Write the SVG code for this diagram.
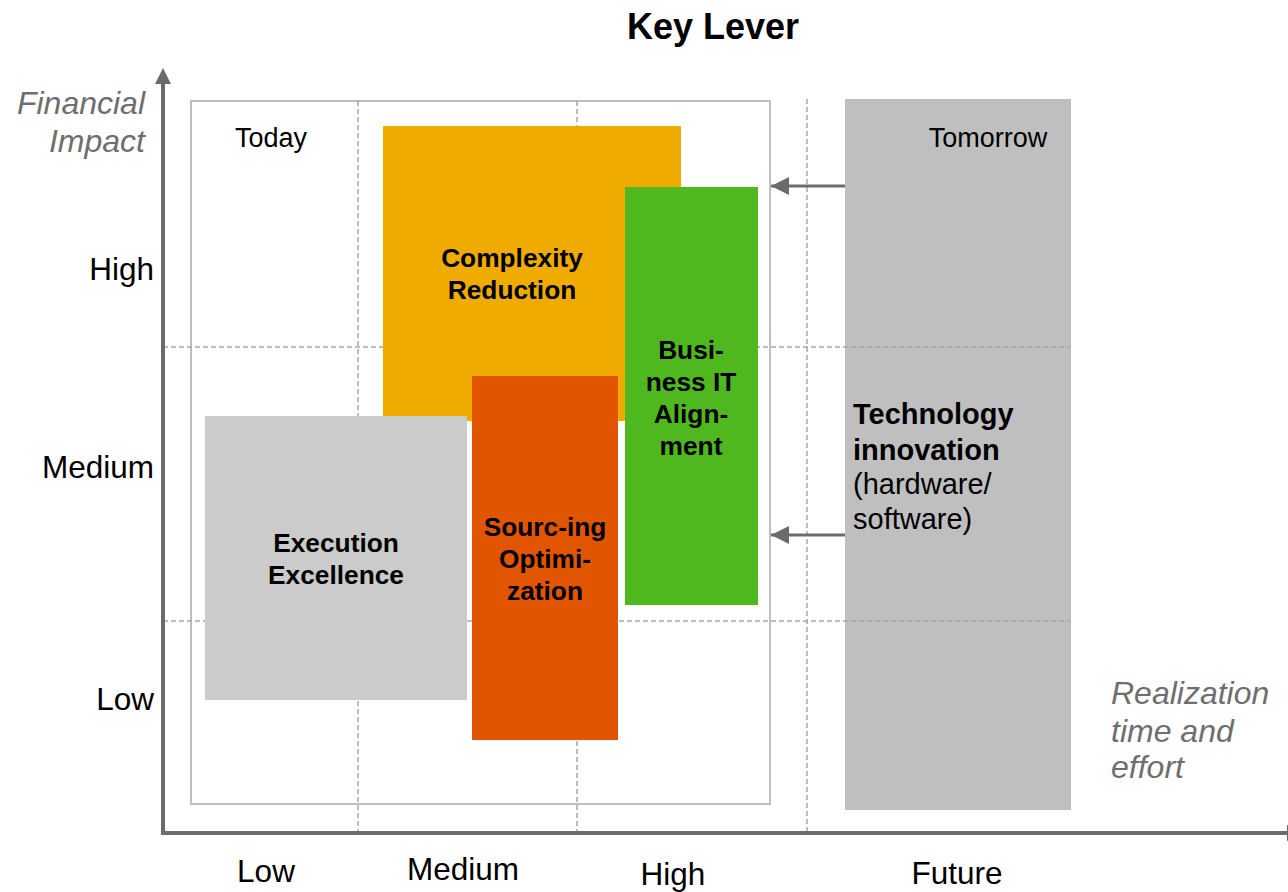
<svg xmlns="http://www.w3.org/2000/svg" width="1288" height="892" viewBox="0 0 1288 892">
<style>
text{font-family:"Liberation Sans",Arial,sans-serif;fill:#000}
.ax{font-size:31.5px}
.ital{font-size:32px;font-style:italic;fill:#6e6e6e}
.lbl{font-size:27px}
.bold{font-size:26.3px;font-weight:bold;text-anchor:middle}
.grid{stroke:#a6a6a6;stroke-width:1.5;stroke-dasharray:5 3;fill:none}
.axis{stroke:#6b6b6b;stroke-width:4;fill:none}
.conn{stroke:#6b6b6b;stroke-width:3;fill:none}
</style>
<defs>
<marker id="ah" markerUnits="userSpaceOnUse" markerWidth="18" markerHeight="18" viewBox="0 0 16 16" refX="16" refY="8" orient="auto">
<polygon points="0,0 16,8 0,16" fill="#6b6b6b"/>
</marker>
</defs>
<rect width="1288" height="892" fill="#fff"/>
<text x="713" y="39" style="font-size:36px;font-weight:bold" text-anchor="middle">Key Lever</text>

<g id="tomorrow">
<rect x="845" y="99" width="226" height="711" fill="#bfbfbf"/>
<text class="lbl" x="988" y="147" text-anchor="middle">Tomorrow</text>
</g>

<g id="grid">
<rect x="191" y="101" width="579" height="703" fill="none" stroke="#bfbfbf" stroke-width="2"/>
<line class="grid" x1="358" y1="101" x2="358" y2="833"/>
<line class="grid" x1="577" y1="101" x2="577" y2="833"/>
<line class="grid" x1="807" y1="99" x2="807" y2="833"/>
<line class="grid" x1="163" y1="347" x2="1071" y2="347"/>
<line class="grid" x1="163" y1="621" x2="1071" y2="621"/>
</g>

<g id="tech-text">
<text x="853" y="424" style="font-size:29px;font-weight:bold">Technology</text>
<text x="853" y="460" style="font-size:29px;font-weight:bold">innovation</text>
<text x="853" y="494" style="font-size:29px">(hardware/</text>
<text x="853" y="529" style="font-size:29px">software)</text>
</g>

<g id="complexity">
<rect x="383" y="126" width="298" height="295" fill="#efab00"/>
<text class="bold" x="512" y="267">Complexity</text>
<text class="bold" x="512" y="299">Reduction</text>
</g>

<g id="business-it">
<rect x="625" y="187" width="133" height="418" fill="#50b81f"/>
<text class="bold" x="691" y="359">Busi-</text>
<text class="bold" x="691" y="391">ness IT</text>
<text class="bold" x="691" y="423">Align-</text>
<text class="bold" x="691" y="455">ment</text>
</g>

<g id="execution">
<rect x="205" y="416" width="262" height="284" fill="#cbcbcb"/>
<text class="bold" x="336" y="552">Execution</text>
<text class="bold" x="336" y="584">Excellence</text>
</g>

<g id="sourcing">
<rect x="472" y="376" width="146" height="364" fill="#e25500"/>
<text class="bold" x="545" y="536">Sourc-ing</text>
<text class="bold" x="545" y="568">Optimi-</text>
<text class="bold" x="545" y="600">zation</text>
</g>

<g id="axes">
<line class="axis" x1="163" y1="835" x2="163" y2="84"/>
<polygon points="155,84 163,68 171,84" fill="#6b6b6b"/>
<line class="axis" x1="161" y1="833" x2="1288" y2="833"/>
<polygon points="1287,825 1303,833 1287,841" fill="#6b6b6b"/>
<text class="ital" x="145" y="114" text-anchor="end">Financial</text>
<text class="ital" x="145" y="152" text-anchor="end">Impact</text>
<text class="ax" x="154" y="280" text-anchor="end">High</text>
<text class="ax" x="154" y="478" text-anchor="end">Medium</text>
<text class="ax" x="154" y="710" text-anchor="end">Low</text>
<text class="ax" x="266" y="882" text-anchor="middle">Low</text>
<text class="ax" x="463" y="880" text-anchor="middle">Medium</text>
<text class="ax" x="673" y="885" text-anchor="middle">High</text>
<text class="ax" x="957" y="884" text-anchor="middle">Future</text>
<text class="ital" x="1111" y="704">Realization</text>
<text class="ital" x="1111" y="742">time and</text>
<text class="ital" x="1111" y="778">effort</text>
<text class="lbl" x="271" y="147" text-anchor="middle">Today</text>
</g>

<g id="connectors">
<line class="conn" x1="845" y1="186" x2="771" y2="186" marker-end="url(#ah)"/>
<line class="conn" x1="845" y1="535" x2="771" y2="535" marker-end="url(#ah)"/>
</g>
</svg>
